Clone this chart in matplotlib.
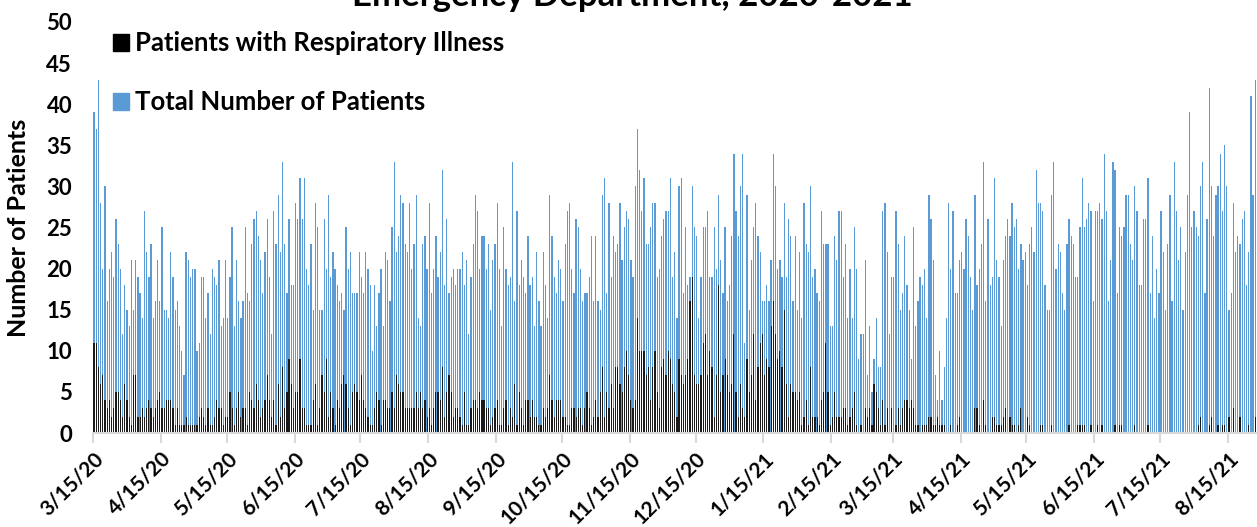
import matplotlib
matplotlib.use("Agg")
import matplotlib.pyplot as plt
from matplotlib.patches import Patch
import pandas as pd

plt.rcParams['font.family'] = ['Lato', 'DejaVu Sans']

# daily counts, starting 3/15/20
start_date = '2020-03-15'
total_patients = [
    39, 37, 43, 28, 20, 30, 16, 20, 22, 19, 26, 23, 20, 12, 18, 15, 13, 21, 15, 21, 19, 17, 14, 27, 22, 19, 23, 14, 16, 21, 16, 25, 15, 15, 14, 22, 19, 15, 16, 13, 10, 7, 22, 21, 19, 20,
    20, 10, 11, 19, 19, 14, 17, 12, 20, 19, 18, 21, 13, 14, 21, 14, 19, 25, 13, 21, 16, 14, 16, 25, 17, 16, 23, 26, 27, 24, 21, 17, 22, 26, 19, 12, 27, 23, 29, 22, 33, 23, 17, 26, 18, 18, 28, 26, 31,
    26, 31, 20, 18, 23, 15, 28, 25, 15, 15, 26, 20, 29, 19, 22, 20, 18, 16, 17, 15, 25, 20, 22, 17, 17, 17, 22, 19, 17, 22, 20, 18, 10, 18, 13, 17, 20, 13, 22, 21, 16, 25, 33, 22, 24, 29, 28, 23,
    22, 28, 20, 23, 29, 14, 13, 23, 24, 20, 28, 17, 20, 24, 19, 22, 32, 18, 26, 17, 19, 20, 18, 20, 20, 22, 18, 21, 12, 19, 23, 29, 27, 20, 24, 24, 20, 23, 15, 21, 23, 28, 20, 13, 25, 20, 18, 19,
    33, 16, 27, 18, 21, 19, 17, 24, 18, 19, 13, 22, 16, 13, 22, 18, 14, 29, 24, 19, 17, 21, 20, 16, 23, 27, 28, 20, 17, 26, 25, 20, 16, 17, 17, 19, 24, 16, 24, 16, 15, 29, 31, 17, 28, 19, 24, 22,
    23, 28, 21, 25, 27, 26, 21, 19, 30, 37, 32, 27, 31, 23, 23, 25, 28, 28, 19, 20, 24, 26, 27, 27, 31, 19, 22, 14, 30, 31, 17, 25, 18, 19, 30, 25, 24, 14, 19, 25, 25, 27, 19, 19, 25, 20, 29, 21,
    17, 25, 16, 18, 24, 34, 27, 24, 30, 34, 11, 29, 15, 21, 25, 28, 24, 22, 16, 16, 18, 16, 21, 34, 30, 20, 21, 19, 28, 19, 26, 24, 16, 24, 15, 22, 14, 28, 23, 22, 30, 19, 20, 17, 16, 27, 23, 23,
    23, 13, 13, 24, 21, 27, 27, 19, 23, 14, 20, 14, 25, 20, 9, 12, 12, 21, 7, 13, 5, 9, 14, 8, 8, 27, 28, 22, 12, 19, 19, 27, 23, 15, 17, 24, 18, 15, 9, 25, 13, 16, 19, 18, 20, 14, 29, 26,
    21, 7, 4, 10, 4, 8, 14, 28, 20, 27, 17, 17, 21, 22, 20, 26, 24, 19, 15, 29, 18, 20, 23, 33, 16, 26, 18, 19, 31, 21, 19, 13, 21, 24, 26, 24, 28, 25, 26, 20, 23, 21, 22, 18, 23, 25, 22, 32,
    28, 28, 27, 18, 15, 15, 29, 33, 20, 23, 22, 17, 15, 23, 26, 24, 23, 19, 19, 25, 31, 25, 26, 28, 27, 16, 27, 27, 28, 26, 34, 27, 16, 21, 33, 32, 17, 25, 24, 25, 29, 29, 23, 21, 30, 27, 18, 18,
    26, 26, 31, 17, 24, 14, 20, 17, 27, 22, 15, 23, 29, 16, 33, 27, 21, 25, 15, 22, 29, 39, 25, 27, 25, 24, 30, 33, 17, 26, 42, 30, 24, 29, 30, 34, 27, 35, 30, 15, 17, 28, 22, 24, 23, 26, 27, 18, 22, 41, 29, 43, 31, 28,
]
respiratory = [
    11, 11, 8, 6, 7, 4, 3, 4, 2, 3, 5, 5, 4, 2, 6, 4, 2, 1, 7, 7, 2, 2, 3, 2, 3, 4, 3, 2, 3, 4, 5, 3, 3, 4, 4, 4, 3, 1, 3, 1, 1, 1, 2, 1, 1, 1,
    1, 1, 2, 3, 2, 1, 3, 1, 1, 2, 4, 3, 3, 1, 2, 2, 5, 3, 1, 3, 5, 2, 3, 3, 1, 5, 4, 3, 6, 4, 2, 3, 4, 7, 4, 2, 4, 1, 6, 2, 8, 3, 5, 9, 6, 3, 5, 5, 9,
    3, 3, 1, 1, 1, 4, 6, 1, 3, 7, 5, 9, 2, 5, 3, 1, 4, 3, 6, 7, 6, 3, 1, 5, 6, 5, 4, 7, 4, 3, 2, 1, 1, 3, 5, 4, 1, 4, 4, 3, 3, 5, 3, 7, 6, 5, 5, 3,
    3, 3, 3, 3, 5, 3, 5, 3, 4, 2, 3, 1, 3, 5, 5, 4, 8, 2, 5, 7, 5, 2, 3, 3, 2, 1, 5, 1, 1, 3, 4, 4, 3, 5, 4, 4, 3, 3, 1, 2, 3, 4, 1, 1, 3, 4, 1, 3,
    2, 6, 1, 5, 3, 1, 4, 4, 2, 4, 2, 2, 1, 1, 3, 2, 3, 7, 4, 2, 4, 4, 4, 2, 2, 1, 1, 3, 3, 2, 3, 3, 1, 3, 5, 3, 1, 2, 4, 2, 5, 8, 2, 5, 3, 6, 3, 8,
    8, 6, 5, 8, 10, 7, 4, 3, 4, 14, 10, 10, 10, 7, 8, 4, 8, 10, 5, 3, 8, 9, 7, 10, 9, 6, 5, 2, 9, 7, 6, 7, 9, 16, 19, 7, 6, 6, 7, 11, 12, 7, 10, 8, 2, 7, 18, 5,
    7, 9, 7, 5, 6, 12, 5, 2, 6, 3, 2, 9, 5, 7, 12, 4, 8, 11, 12, 7, 9, 8, 13, 16, 12, 9, 10, 8, 15, 6, 2, 6, 5, 5, 4, 5, 1, 2, 4, 1, 8, 2, 2, 2, 1, 4, 5, 11,
    5, 1, 2, 5, 2, 2, 2, 3, 3, 1, 2, 3, 5, 1, 0, 1, 0, 3, 2, 3, 1, 6, 5, 3, 1, 4, 1, 3, 0, 3, 0, 1, 3, 1, 3, 4, 4, 3, 4, 3, 1, 1, 0, 1, 1, 1, 2, 2,
    1, 1, 2, 1, 1, 1, 0, 0, 1, 0, 0, 1, 2, 0, 0, 0, 0, 0, 0, 3, 3, 1, 0, 4, 1, 0, 0, 2, 2, 1, 1, 1, 2, 3, 0, 2, 1, 1, 0, 1, 3, 0, 0, 2, 1, 0, 0, 0,
    0, 1, 1, 0, 0, 0, 1, 0, 0, 0, 0, 0, 0, 0, 1, 0, 0, 0, 1, 1, 1, 1, 0, 0, 1, 0, 0, 1, 0, 1, 0, 0, 0, 0, 0, 1, 0, 1, 1, 0, 0, 0, 0, 0, 1, 0, 0, 0,
    0, 0, 1, 0, 0, 0, 0, 0, 0, 0, 0, 0, 0, 0, 0, 0, 0, 0, 0, 0, 0, 0, 0, 0, 0, 1, 2, 0, 0, 0, 1, 2, 0, 0, 1, 0, 1, 1, 0, 2, 0, 3, 0, 0, 2, 0, 0, 0, 1, 0, 0, 2, 3, 2,
]
tick_labels = ['3/15/20', '4/15/20', '5/15/20', '6/15/20', '7/15/20', '8/15/20', '9/15/20',
               '10/15/20', '11/15/20', '12/15/20', '1/15/21', '2/15/21', '3/15/21', '4/15/21',
               '5/15/21', '6/15/21', '7/15/21', '8/15/21']

dates = pd.date_range(start_date, periods=len(total_patients))
xpos = (dates - dates[0]).days + 0.5
tick_pos = (pd.to_datetime(tick_labels, format='%m/%d/%y') - dates[0]).days

W, H = 1257, 527
fig = plt.figure(figsize=(W / 100, H / 100), dpi=100)
ax = fig.add_axes([93 / W, 94 / H, (W - 93) / W, 411 / H])

blue = '#5B9BD5'
ax.bar(xpos, total_patients, width=0.58, color=blue, linewidth=0)
ax.bar(xpos, respiratory, width=0.55, color='#1a1a1a', linewidth=0)

ax.set_xlim(0, (W - 93) / 2.191)
ax.set_ylim(0, 50)
ax.set_yticks(range(0, 51, 5))
ax.set_xticks(tick_pos)
ax.set_xticklabels(tick_labels, rotation=45, ha='right', rotation_mode='anchor',
                   fontsize=15, fontweight='bold')
for lbl in ax.get_yticklabels():
    lbl.set_fontsize(16)
    lbl.set_fontweight('bold')
ax.tick_params(axis='y', length=0, pad=15)
ax.tick_params(axis='x', length=7, width=1.5, color='#D9D9D9', pad=4)

for s in ['top', 'right', 'left']:
    ax.spines[s].set_visible(False)
ax.spines['bottom'].set_color('#D9D9D9')
ax.spines['bottom'].set_linewidth(1.5)

ax.set_ylabel('Number of Patients', fontsize=18, fontweight='bold')
ax.yaxis.set_label_coords(-0.064, 0.5)
ax.yaxis.label.set_va('center')

handles = [Patch(color='black', label='Patients with Respiratory Illness'),
           Patch(color=blue, label='Total Number of Patients')]
ax.legend(handles=handles, loc='upper left', bbox_to_anchor=(0.0172, 0.977),
          frameon=False, borderpad=0, borderaxespad=0, handlelength=0.62,
          handleheight=0.62, handletextpad=0.25, labelspacing=1.36,
          prop={'size': 18.5, 'weight': 'bold'})

fig.text(0.503, 1 - 6 / H, 'Emergency Department, 2020-2021', ha='center',
         va='baseline', fontsize=25, fontweight='bold')

fig.savefig('out.png', dpi=100)
